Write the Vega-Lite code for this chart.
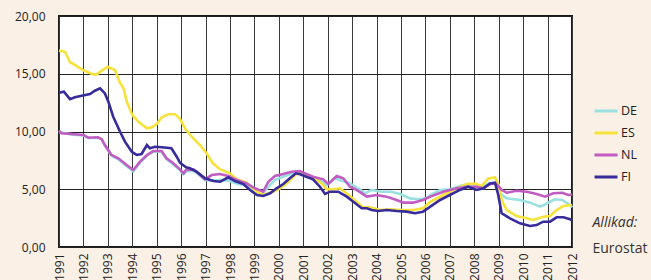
{
  "$schema": "https://vega.github.io/schema/vega-lite/v6.json",
  "width": 513,
  "height": 231,
  "autosize": {"type": "none"},
  "padding": {"left": 59, "top": 16, "right": 79, "bottom": 33},
  "background": "#fbf0e6",
  "config": {
    "view": {"fill": "white", "stroke": "#1a1a1a", "strokeWidth": 2},
    "font": "Open Sans",
    "axis": {"labelFont": "Open Sans", "labelFontSize": 12, "labelColor": "#222", "titleFont": "Open Sans"},
    "legend": {"labelFont": "Open Sans"}
  },
  "data": {
    "values": [
      {"c":"DE","t":1991.0,"v":9.95},{"c":"DE","t":1991.5,"v":9.75},{"c":"DE","t":1992.0,"v":9.65},{"c":"DE","t":1992.2,"v":9.45},{"c":"DE","t":1992.6,"v":9.45},{"c":"DE","t":1992.75,"v":9.35},{"c":"DE","t":1992.88,"v":8.75},{"c":"DE","t":1993.15,"v":7.9},{"c":"DE","t":1993.43,"v":7.6},{"c":"DE","t":1993.77,"v":7.0},{"c":"DE","t":1994.04,"v":6.55},{"c":"DE","t":1994.32,"v":7.3},{"c":"DE","t":1994.6,"v":7.9},{"c":"DE","t":1994.86,"v":8.25},{"c":"DE","t":1995.2,"v":8.25},{"c":"DE","t":1995.4,"v":7.6},{"c":"DE","t":1995.68,"v":7.15},{"c":"DE","t":1995.95,"v":6.65},{"c":"DE","t":1996.1,"v":6.3},{"c":"DE","t":1996.2,"v":6.55},{"c":"DE","t":1996.5,"v":6.6},{"c":"DE","t":1996.7,"v":6.3},{"c":"DE","t":1996.98,"v":5.8},{"c":"DE","t":1997.25,"v":5.75},{"c":"DE","t":1997.6,"v":5.8},{"c":"DE","t":1997.93,"v":5.75},{"c":"DE","t":1998.27,"v":5.5},{"c":"DE","t":1998.68,"v":5.3},{"c":"DE","t":1999.02,"v":4.7},{"c":"DE","t":1999.3,"v":4.5},{"c":"DE","t":1999.57,"v":5.2},{"c":"DE","t":1999.84,"v":5.8},{"c":"DE","t":2000.18,"v":6.1},{"c":"DE","t":2000.52,"v":6.35},{"c":"DE","t":2000.86,"v":6.45},{"c":"DE","t":2001.1,"v":6.2},{"c":"DE","t":2001.4,"v":5.95},{"c":"DE","t":2001.82,"v":5.6},{"c":"DE","t":2001.95,"v":5.37},{"c":"DE","t":2002.3,"v":5.95},{"c":"DE","t":2002.5,"v":5.8},{"c":"DE","t":2002.91,"v":5.5},{"c":"DE","t":2003.25,"v":5.08},{"c":"DE","t":2003.53,"v":4.65},{"c":"DE","t":2003.8,"v":4.94},{"c":"DE","t":2004.2,"v":4.79},{"c":"DE","t":2004.62,"v":4.79},{"c":"DE","t":2004.96,"v":4.59},{"c":"DE","t":2005.37,"v":4.21},{"c":"DE","t":2005.7,"v":4.13},{"c":"DE","t":2006.05,"v":4.21},{"c":"DE","t":2006.2,"v":4.5},{"c":"DE","t":2006.6,"v":4.94},{"c":"DE","t":2007.0,"v":5.0},{"c":"DE","t":2007.55,"v":5.37},{"c":"DE","t":2007.96,"v":5.45},{"c":"DE","t":2008.3,"v":5.17},{"c":"DE","t":2008.6,"v":5.5},{"c":"DE","t":2008.85,"v":5.5},{"c":"DE","t":2009.05,"v":4.65},{"c":"DE","t":2009.33,"v":4.21},{"c":"DE","t":2009.87,"v":4.07},{"c":"DE","t":2010.28,"v":3.84},{"c":"DE","t":2010.69,"v":3.49},{"c":"DE","t":2010.85,"v":3.64},{"c":"DE","t":2011.3,"v":4.13},{"c":"DE","t":2011.6,"v":4.07},{"c":"DE","t":2011.92,"v":3.64},{"c":"DE","t":2012.0,"v":3.43},
      {"c":"ES","t":1991.0,"v":17.0},{"c":"ES","t":1991.25,"v":16.9},{"c":"ES","t":1991.45,"v":16.0},{"c":"ES","t":1991.65,"v":15.76},{"c":"ES","t":1992.0,"v":15.3},{"c":"ES","t":1992.4,"v":14.95},{"c":"ES","t":1992.55,"v":14.95},{"c":"ES","t":1992.75,"v":15.27},{"c":"ES","t":1993.0,"v":15.6},{"c":"ES","t":1993.3,"v":15.3},{"c":"ES","t":1993.5,"v":14.2},{"c":"ES","t":1993.65,"v":13.7},{"c":"ES","t":1993.77,"v":12.6},{"c":"ES","t":1994.0,"v":11.43},{"c":"ES","t":1994.25,"v":10.85},{"c":"ES","t":1994.6,"v":10.27},{"c":"ES","t":1994.8,"v":10.36},{"c":"ES","t":1995.0,"v":10.65},{"c":"ES","t":1995.2,"v":11.2},{"c":"ES","t":1995.47,"v":11.5},{"c":"ES","t":1995.75,"v":11.5},{"c":"ES","t":1995.95,"v":11.1},{"c":"ES","t":1996.2,"v":10.13},{"c":"ES","t":1996.5,"v":9.4},{"c":"ES","t":1996.77,"v":8.83},{"c":"ES","t":1997.05,"v":8.1},{"c":"ES","t":1997.3,"v":7.25},{"c":"ES","t":1997.6,"v":6.72},{"c":"ES","t":1998.0,"v":6.38},{"c":"ES","t":1998.27,"v":5.86},{"c":"ES","t":1998.68,"v":5.57},{"c":"ES","t":1999.1,"v":4.79},{"c":"ES","t":1999.36,"v":4.5},{"c":"ES","t":1999.77,"v":4.79},{"c":"ES","t":2000.05,"v":5.08},{"c":"ES","t":2000.4,"v":5.65},{"c":"ES","t":2000.66,"v":6.23},{"c":"ES","t":2000.9,"v":6.45},{"c":"ES","t":2001.27,"v":6.09},{"c":"ES","t":2001.4,"v":6.0},{"c":"ES","t":2001.75,"v":5.5},{"c":"ES","t":2001.95,"v":5.0},{"c":"ES","t":2002.23,"v":5.0},{"c":"ES","t":2002.5,"v":5.08},{"c":"ES","t":2002.77,"v":4.65},{"c":"ES","t":2003.18,"v":3.92},{"c":"ES","t":2003.45,"v":3.43},{"c":"ES","t":2003.73,"v":3.43},{"c":"ES","t":2004.14,"v":3.2},{"c":"ES","t":2004.55,"v":3.26},{"c":"ES","t":2004.96,"v":3.2},{"c":"ES","t":2005.5,"v":3.2},{"c":"ES","t":2005.9,"v":3.35},{"c":"ES","t":2006.2,"v":3.92},{"c":"ES","t":2006.73,"v":4.5},{"c":"ES","t":2007.28,"v":5.08},{"c":"ES","t":2007.7,"v":5.45},{"c":"ES","t":2008.03,"v":5.5},{"c":"ES","t":2008.3,"v":5.28},{"c":"ES","t":2008.57,"v":5.94},{"c":"ES","t":2008.85,"v":6.03},{"c":"ES","t":2009.0,"v":5.37},{"c":"ES","t":2009.12,"v":4.07},{"c":"ES","t":2009.33,"v":3.2},{"c":"ES","t":2009.73,"v":2.68},{"c":"ES","t":2010.15,"v":2.48},{"c":"ES","t":2010.4,"v":2.34},{"c":"ES","t":2010.83,"v":2.62},{"c":"ES","t":2011.1,"v":2.68},{"c":"ES","t":2011.37,"v":3.2},{"c":"ES","t":2011.65,"v":3.55},{"c":"ES","t":2012.0,"v":3.64},
      {"c":"NL","t":1991.0,"v":10.07},{"c":"NL","t":1991.1,"v":9.84},{"c":"NL","t":1991.65,"v":9.76},{"c":"NL","t":1992.0,"v":9.7},{"c":"NL","t":1992.2,"v":9.46},{"c":"NL","t":1992.6,"v":9.5},{"c":"NL","t":1992.75,"v":9.32},{"c":"NL","t":1992.88,"v":8.83},{"c":"NL","t":1993.15,"v":7.97},{"c":"NL","t":1993.43,"v":7.68},{"c":"NL","t":1993.77,"v":7.1},{"c":"NL","t":1994.04,"v":6.67},{"c":"NL","t":1994.32,"v":7.39},{"c":"NL","t":1994.6,"v":7.97},{"c":"NL","t":1994.86,"v":8.31},{"c":"NL","t":1995.2,"v":8.31},{"c":"NL","t":1995.4,"v":7.68},{"c":"NL","t":1995.68,"v":7.25},{"c":"NL","t":1995.95,"v":6.72},{"c":"NL","t":1996.1,"v":6.38},{"c":"NL","t":1996.2,"v":6.67},{"c":"NL","t":1996.5,"v":6.72},{"c":"NL","t":1996.7,"v":6.38},{"c":"NL","t":1996.98,"v":5.86},{"c":"NL","t":1997.25,"v":6.23},{"c":"NL","t":1997.59,"v":6.32},{"c":"NL","t":1997.93,"v":6.15},{"c":"NL","t":1998.27,"v":5.8},{"c":"NL","t":1998.68,"v":5.5},{"c":"NL","t":1999.02,"v":5.08},{"c":"NL","t":1999.36,"v":4.79},{"c":"NL","t":1999.57,"v":5.65},{"c":"NL","t":1999.84,"v":6.15},{"c":"NL","t":2000.18,"v":6.32},{"c":"NL","t":2000.52,"v":6.52},{"c":"NL","t":2000.86,"v":6.58},{"c":"NL","t":2001.1,"v":6.35},{"c":"NL","t":2001.4,"v":6.09},{"c":"NL","t":2001.82,"v":5.86},{"c":"NL","t":2002.02,"v":5.45},{"c":"NL","t":2002.37,"v":6.15},{"c":"NL","t":2002.64,"v":5.95},{"c":"NL","t":2002.91,"v":5.22},{"c":"NL","t":2003.18,"v":4.94},{"c":"NL","t":2003.6,"v":4.36},{"c":"NL","t":2004.0,"v":4.5},{"c":"NL","t":2004.41,"v":4.36},{"c":"NL","t":2004.82,"v":4.07},{"c":"NL","t":2005.1,"v":3.84},{"c":"NL","t":2005.5,"v":3.84},{"c":"NL","t":2005.9,"v":4.07},{"c":"NL","t":2006.2,"v":4.36},{"c":"NL","t":2006.73,"v":4.79},{"c":"NL","t":2007.28,"v":5.08},{"c":"NL","t":2007.7,"v":5.22},{"c":"NL","t":2008.1,"v":5.22},{"c":"NL","t":2008.37,"v":5.08},{"c":"NL","t":2008.7,"v":5.5},{"c":"NL","t":2008.9,"v":5.45},{"c":"NL","t":2009.12,"v":4.94},{"c":"NL","t":2009.33,"v":4.7},{"c":"NL","t":2009.73,"v":4.87},{"c":"NL","t":2010.15,"v":4.79},{"c":"NL","t":2010.55,"v":4.59},{"c":"NL","t":2010.9,"v":4.36},{"c":"NL","t":2011.23,"v":4.65},{"c":"NL","t":2011.6,"v":4.7},{"c":"NL","t":2011.85,"v":4.5},{"c":"NL","t":2012.0,"v":4.55},
      {"c":"FI","t":1991.0,"v":13.36},{"c":"FI","t":1991.2,"v":13.45},{"c":"FI","t":1991.45,"v":12.8},{"c":"FI","t":1991.65,"v":12.96},{"c":"FI","t":1991.93,"v":13.1},{"c":"FI","t":1992.27,"v":13.25},{"c":"FI","t":1992.47,"v":13.53},{"c":"FI","t":1992.68,"v":13.74},{"c":"FI","t":1992.88,"v":13.3},{"c":"FI","t":1993.02,"v":12.58},{"c":"FI","t":1993.22,"v":11.28},{"c":"FI","t":1993.5,"v":9.98},{"c":"FI","t":1993.7,"v":9.12},{"c":"FI","t":1993.98,"v":8.25},{"c":"FI","t":1994.18,"v":7.97},{"c":"FI","t":1994.38,"v":8.05},{"c":"FI","t":1994.6,"v":8.83},{"c":"FI","t":1994.72,"v":8.55},{"c":"FI","t":1994.93,"v":8.68},{"c":"FI","t":1995.2,"v":8.63},{"c":"FI","t":1995.6,"v":8.55},{"c":"FI","t":1995.82,"v":7.82},{"c":"FI","t":1995.95,"v":7.3},{"c":"FI","t":1996.2,"v":6.9},{"c":"FI","t":1996.36,"v":6.81},{"c":"FI","t":1996.63,"v":6.52},{"c":"FI","t":1996.98,"v":5.95},{"c":"FI","t":1997.32,"v":5.71},{"c":"FI","t":1997.6,"v":5.65},{"c":"FI","t":1997.93,"v":6.03},{"c":"FI","t":1998.2,"v":5.71},{"c":"FI","t":1998.55,"v":5.45},{"c":"FI","t":1998.82,"v":4.94},{"c":"FI","t":1999.1,"v":4.5},{"c":"FI","t":1999.36,"v":4.42},{"c":"FI","t":1999.64,"v":4.65},{"c":"FI","t":1999.91,"v":5.08},{"c":"FI","t":2000.18,"v":5.45},{"c":"FI","t":2000.45,"v":5.95},{"c":"FI","t":2000.7,"v":6.38},{"c":"FI","t":2000.87,"v":6.3},{"c":"FI","t":2001.1,"v":6.1},{"c":"FI","t":2001.4,"v":5.86},{"c":"FI","t":2001.68,"v":5.22},{"c":"FI","t":2001.89,"v":4.59},{"c":"FI","t":2002.1,"v":4.79},{"c":"FI","t":2002.43,"v":4.79},{"c":"FI","t":2002.78,"v":4.36},{"c":"FI","t":2003.05,"v":3.92},{"c":"FI","t":2003.39,"v":3.35},{"c":"FI","t":2003.6,"v":3.35},{"c":"FI","t":2003.8,"v":3.2},{"c":"FI","t":2004.07,"v":3.12},{"c":"FI","t":2004.41,"v":3.2},{"c":"FI","t":2004.82,"v":3.12},{"c":"FI","t":2005.23,"v":3.06},{"c":"FI","t":2005.57,"v":2.92},{"c":"FI","t":2005.9,"v":3.06},{"c":"FI","t":2006.2,"v":3.49},{"c":"FI","t":2006.6,"v":4.07},{"c":"FI","t":2007.0,"v":4.5},{"c":"FI","t":2007.41,"v":4.94},{"c":"FI","t":2007.75,"v":5.22},{"c":"FI","t":2008.1,"v":4.94},{"c":"FI","t":2008.37,"v":5.08},{"c":"FI","t":2008.64,"v":5.5},{"c":"FI","t":2008.85,"v":5.57},{"c":"FI","t":2008.98,"v":4.5},{"c":"FI","t":2009.12,"v":2.92},{"c":"FI","t":2009.46,"v":2.48},{"c":"FI","t":2009.87,"v":2.05},{"c":"FI","t":2010.28,"v":1.82},{"c":"FI","t":2010.55,"v":1.9},{"c":"FI","t":2010.82,"v":2.19},{"c":"FI","t":2011.1,"v":2.19},{"c":"FI","t":2011.37,"v":2.57},{"c":"FI","t":2011.65,"v":2.57},{"c":"FI","t":2011.92,"v":2.4},{"c":"FI","t":2012.0,"v":2.3}
    ]
  },
  "mark": {"type": "line", "strokeWidth": 2.6, "interpolate": "linear"},
  "encoding": {
    "x": {
      "field": "t", "type": "quantitative",
      "scale": {"domain": [1991, 2012], "nice": false, "zero": false},
      "axis": {
        "values": [1991,1992,1993,1994,1995,1996,1997,1998,1999,2000,2001,2002,2003,2004,2005,2006,2007,2008,2009,2010,2011,2012],
        "format": "d", "labelAngle": 270, "labelPadding": 6, "ticks": false, "domain": false,
        "grid": true, "gridColor": "#3a3a3a", "gridWidth": 1, "gridOpacity": 1,
        "labelFontSize": 12, "labelColor": "#222",
        "title": "Eurostat", "titleX": 533, "titleY": 5, "titleAlign": "left", "titleBaseline": "alphabetic",
        "titleAngle": 0, "titleFontSize": 14, "titleFontWeight": "normal", "titleColor": "#333"
      }
    },
    "y": {
      "field": "v", "type": "quantitative",
      "scale": {"domain": [0, 20], "nice": false},
      "axis": {
        "values": [0, 5, 10, 15, 20],
        "labelExpr": "replace(format(datum.value, '.2f'), '.', ',')",
        "labelPadding": 14, "ticks": false, "domain": false,
        "grid": true, "gridColor": "#222", "gridWidth": 1.2, "gridOpacity": 1,
        "labelFontSize": 12, "labelColor": "#222",
        "title": "Allikad:", "titleX": 533, "titleY": 210, "titleAlign": "left", "titleBaseline": "alphabetic",
        "titleAngle": 0, "titleFontSize": 14, "titleFontWeight": "normal", "titleFontStyle": "italic", "titleColor": "#333"
      }
    },
    "color": {
      "field": "c", "type": "nominal",
      "scale": {"domain": ["DE", "ES", "NL", "FI"], "range": ["#9ae0e0", "#f7e23a", "#c25cc2", "#382c9c"]},
      "legend": {
        "title": null, "orient": "none", "legendX": 534, "legendY": 82,
        "symbolType": "stroke", "symbolSize": 529, "symbolStrokeWidth": 3,
        "labelFontSize": 12.5, "labelColor": "#222", "labelOffset": 2, "rowPadding": 2
      }
    }
  }
}
